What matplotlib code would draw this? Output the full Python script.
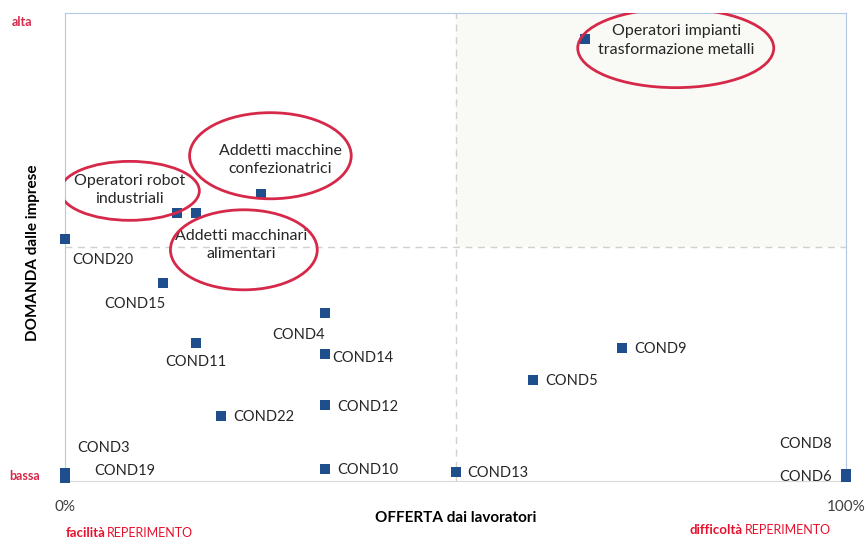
import matplotlib
matplotlib.use("Agg")
import matplotlib.pyplot as plt
from matplotlib.patches import Ellipse, Rectangle

plt.rcParams['font.family'] = ['Lato', 'DejaVu Sans']

# dati: offerta (x) e domanda (y), scala 0-1
etichette = ['COND20', 'COND15', 'COND4', 'COND11', 'COND14', 'COND9', 'COND5',
             'COND12', 'COND22', 'COND10', 'COND13', 'COND3', 'COND19', 'COND8', 'COND6']
offerta = [0.0, 0.125, 0.333, 0.168, 0.333, 0.713, 0.599,
           0.333, 0.200, 0.333, 0.501, 0.0, 0.0, 1.0, 1.0]
domanda = [0.517, 0.423, 0.359, 0.295, 0.271, 0.284, 0.216,
           0.162, 0.139, 0.026, 0.019, 0.018, 0.006, 0.016, 0.008]

profili = ['Operatori impianti\ntrasformazione metalli', 'Addetti macchine\nconfezionatrici',
           'Operatori robot\nindustriali', 'Addetti macchinari\nalimentari']
offerta_prof = [0.666, 0.251, 0.143, 0.168]
domanda_prof = [0.944, 0.613, 0.573, 0.573]

# posizione delle etichette (offset in punti) e allineamento
offset_etich = [(5, -15, 'left'), (2, -15, 'right'), (0, -16, 'right'), (0, -14, 'center'),
                (5, -3, 'left'), (9, -1, 'left'), (9, -1, 'left'), (9, -1, 'left'),
                (9, -1, 'left'), (9, -1, 'left'), (8, -1, 'left'), (9, 18, 'left'),
                (21, 5, 'left'), (-10, 21, 'right'), (-10, 0, 'right')]
# ellissi: centro testo (x, y), centro ellisse, larghezza, altezza
testo_prof = [(0.783, 0.941), (0.276, 0.686), (0.083, 0.622), (0.226, 0.504)]
ellissi = [(0.782, 0.925, 0.251, 0.169), (0.263, 0.695, 0.207, 0.184),
           (0.083, 0.620, 0.178, 0.126), (0.229, 0.494, 0.188, 0.171)]

blu = '#1f4e8c'
rosso = '#d6294a'

fig = plt.figure(figsize=(8.67, 5.4), dpi=100)
ax = fig.add_axes([65 / 867, 59 / 540, 781 / 867, 468 / 540])
ax.set_xlim(0, 1)
ax.set_ylim(0, 1)

ax.add_patch(Rectangle((0.5, 0.5), 0.5, 0.5, facecolor='#f9f9f5', edgecolor='none', zorder=0))
ax.axvline(0.5, color='#d0d0d0', ls=(0, (5, 4)), lw=1, zorder=1)
ax.axhline(0.5, color='#d0d0d0', ls=(0, (5, 4)), lw=1, zorder=1)

ax.scatter(offerta, domanda, marker='s', s=55, color=blu, lw=0, zorder=3, clip_on=False)
ax.scatter(offerta_prof, domanda_prof, marker='s', s=55, color=blu, lw=0, zorder=3, clip_on=False)

for lab, x, y, (dx, dy, ha) in zip(etichette, offerta, domanda, offset_etich):
    ax.annotate(lab, (x, y), xytext=(dx, dy), textcoords='offset points',
                ha=ha, va='center', fontsize=10.5, color='#262626')

for lab, (tx, ty), (ex, ey, ew, eh) in zip(profili, testo_prof, ellissi):
    ax.text(tx, ty, lab, ha='center', va='center', fontsize=11.5, color='#262626',
            linespacing=1.4, zorder=4)
    ax.add_patch(Ellipse((ex, ey), ew, eh, fill=False, edgecolor=rosso, lw=2, zorder=4))

for s in ['top', 'right', 'left']:
    ax.spines[s].set_color('#b4c7e7')
ax.spines['bottom'].set_color('#d9d9d9')
ax.set_xticks([])
ax.set_yticks([])

fig.text(65 / 867, 1 - 507 / 540, '0%', ha='center', va='center', fontsize=11, color='#404040')
fig.text(846 / 867, 1 - 507 / 540, '100%', ha='center', va='center', fontsize=11, color='#404040')
fig.text(456 / 867, 1 - 518 / 540, 'OFFERTA dai lavoratori', ha='center', va='center',
         fontsize=11, fontweight='bold', color='#000000')
fig.text(33 / 867, 1 - 253 / 540, 'DOMANDA dalle imprese', ha='center', va='center',
         rotation=90, fontsize=11, fontweight='bold', color='#000000')
fig.text(22 / 867, 1 - 22 / 540, 'alta', ha='center', va='center', fontsize=9,
         fontweight='bold', color=rosso)
fig.text(25 / 867, 1 - 476 / 540, 'bassa', ha='center', va='center', fontsize=9,
         fontweight='bold', color=rosso)

fig.text(66 / 867, 1 - 533 / 540, 'facilità', ha='left', va='center', fontsize=9.5,
         fontweight='bold', color='#e8112d')
fig.text(107 / 867, 1 - 533 / 540, 'REPERIMENTO', ha='left', va='center', fontsize=9,
         color='#e8112d')
fig.text(690 / 867, 1 - 530 / 540, 'difficoltà', ha='left', va='center', fontsize=9.5,
         fontweight='bold', color='#e8112d')
fig.text(745 / 867, 1 - 530 / 540, 'REPERIMENTO', ha='left', va='center', fontsize=9,
         color='#e8112d')

fig.savefig('out.png', dpi=100)
